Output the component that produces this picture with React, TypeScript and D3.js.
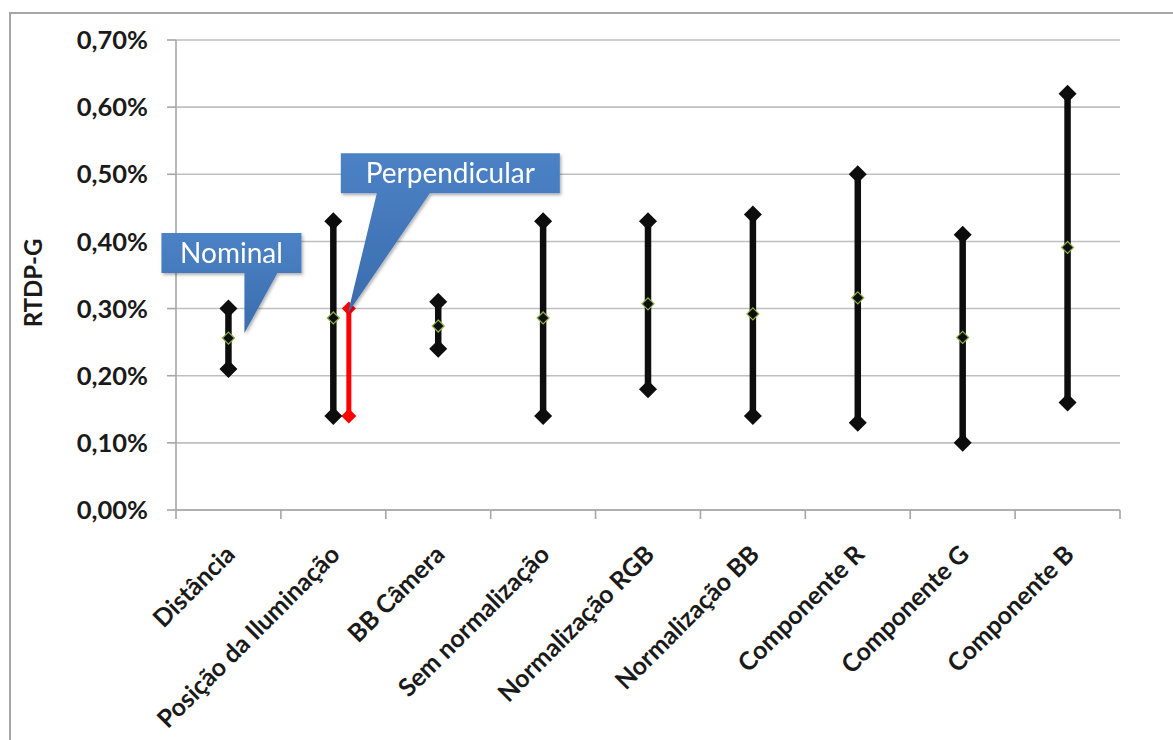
import React from "react";
import * as d3 from "d3";

const categories = [
  "Distância",
  "Posição da Iluminação",
  "BB Câmera",
  "Sem normalização",
  "Normalização RGB",
  "Normalização BB",
  "Componente R",
  "Componente G",
  "Componente B",
];
const maxValues = [0.3, 0.43, 0.31, 0.43, 0.43, 0.44, 0.5, 0.41, 0.62];
const minValues = [0.21, 0.14, 0.24, 0.14, 0.18, 0.14, 0.13, 0.1, 0.16];
const midValues = [0.256, 0.286, 0.274, 0.286, 0.307, 0.292, 0.316, 0.257, 0.391];

// Perpendicular (red) series, only for "Posição da Iluminação"
const redCategory = "Posição da Iluminação";
const redMax = 0.3;
const redMin = 0.14;

const yTicks = [0, 0.1, 0.2, 0.3, 0.4, 0.5, 0.6, 0.7];
const yLabel = "RTDP-G";

const annotations = [
  { text: "Nominal", category: "Distância", dx: 16, value: 0.2636, boxX: -83, boxY: -100, boxW: 140, boxH: 40, baseL: 0, baseR: 33 },
  { text: "Perpendicular", category: "Posição da Iluminação", dx: 14.5, value: 0.293, boxX: -7, boxY: -160, boxW: 219, boxH: 40, baseL: 29, baseR: 82 },
];

const W = 1173;
const H = 740;
const left = 176;
const right = 1120;
const top = 40;
const bottom = 510;

const FONT = "Lato, 'Open Sans', sans-serif";

function diamond(cx: number, cy: number, hw: number, hh: number) {
  return `M${cx},${cy - hh}L${cx + hw},${cy}L${cx},${cy + hh}L${cx - hw},${cy}Z`;
}

export default function App() {
  const x = d3.scaleBand<string>().domain(categories).range([left, right]);
  const y = d3.scaleLinear().domain([0, 0.7]).range([bottom, top]);
  const xc = (c: string) => (x(c) ?? 0) + x.bandwidth() / 2;
  const fmt = (v: number) => v.toFixed(2).replace(".", ",") + "%";

  const redX = xc(redCategory) + 15.5;

  return (
    <svg
      width={W}
      height={H}
      style={{ position: "absolute", left: 0, top: 0, background: "#fff" }}
      fontFamily={FONT}
    >
      <defs>
        <linearGradient id="calloutGrad" x1="0" y1="0" x2="0" y2="1">
          <stop offset="0%" stopColor="#4c82c6" />
          <stop offset="100%" stopColor="#3a6cad" />
        </linearGradient>
        <filter id="shadow" x="-10%" y="-10%" width="130%" height="140%">
          <feDropShadow dx="1.5" dy="2" stdDeviation="1.5" floodColor="#000" floodOpacity="0.3" />
        </filter>
      </defs>

      {/* outer chart frame */}
      <rect x={10} y={13} width={W + 20} height={H + 20} fill="none" stroke="#a6a6a6" strokeWidth={2} />

      {/* gridlines */}
      {yTicks.map((t) => (
        <line key={"g" + t} x1={left} x2={right} y1={y(t)} y2={y(t)} stroke="#bfbfbf" strokeWidth={1.6} />
      ))}

      {/* y axis */}
      <line x1={left} x2={left} y1={top} y2={bottom} stroke="#a6a6a6" strokeWidth={1.6} />
      {yTicks.map((t) => (
        <g key={"yt" + t}>
          <line x1={left - 9} x2={left} y1={y(t)} y2={y(t)} stroke="#a6a6a6" strokeWidth={1.6} />
          <text x={148} y={y(t)} dy="0.36em" textAnchor="end" fontSize={25.5} fontWeight={700} fill="#1a1a1a">
            {fmt(t)}
          </text>
        </g>
      ))}
      <text
        transform={`translate(42,${(top + bottom) / 2 + 8}) rotate(-90)`}
        textAnchor="middle"
        fontSize={24}
        fontWeight={700}
        fill="#1a1a1a"
      >
        {yLabel}
      </text>

      {/* x axis */}
      <line x1={left} x2={right} y1={bottom} y2={bottom} stroke="#a6a6a6" strokeWidth={1.6} />
      {categories.map((c) => (
        <line key={"xt" + c} x1={x(c)} x2={x(c)} y1={bottom} y2={bottom + 9} stroke="#a6a6a6" strokeWidth={1.6} />
      ))}
      <line x1={right} x2={right} y1={bottom} y2={bottom + 9} stroke="#a6a6a6" strokeWidth={1.6} />
      {categories.map((c) => (
        <text
          key={"xl" + c}
          transform={`translate(${xc(c) + 8},${bottom + 46}) rotate(-45)`}
          textAnchor="end"
          fontSize={25}
          fontWeight={700}
          fill="#1a1a1a"
        >
          {c}
        </text>
      ))}

      {/* red (Perpendicular) range */}
      <line x1={redX} x2={redX} y1={y(redMax)} y2={y(redMin)} stroke="#ff0000" strokeWidth={5} />
      <path d={diamond(redX, y(redMax), 7, 7)} fill="#ff0000" />
      <path d={diamond(redX, y(redMin), 7.5, 7.5)} fill="#ff0000" />

      {/* black ranges */}
      {categories.map((c, i) => {
        const cx = xc(c);
        return (
          <g key={"r" + c}>
            <line x1={cx} x2={cx} y1={y(maxValues[i])} y2={y(minValues[i])} stroke="#0d0d0d" strokeWidth={6.5} />
            <path d={diamond(cx, y(maxValues[i]), 9, 9)} fill="#0d0d0d" />
            <path d={diamond(cx, y(minValues[i]), 9, 9)} fill="#0d0d0d" />
            <path d={diamond(cx, y(midValues[i]), 6, 6)} fill="#0d0d0d" stroke="#8db04a" strokeWidth={1.2} />
          </g>
        );
      })}

      {/* callouts */}
      {annotations.map((a) => {
        const tx = xc(a.category) + a.dx;
        const ty = y(a.value);
        const bx = tx + a.boxX;
        const by = ty + a.boxY;
        const baseY = by + a.boxH;
        const shape = `M${bx},${by}H${bx + a.boxW}V${baseY}H${tx + a.baseR}L${tx},${ty}L${tx + a.baseL - 0.01},${baseY}H${bx}Z`;
        return (
          <g key={"a" + a.text} filter="url(#shadow)">
            <path d={shape} fill="url(#calloutGrad)" />
            <text
              x={bx + a.boxW / 2}
              y={by + a.boxH / 2}
              dy="0.36em"
              textAnchor="middle"
              fontSize={28}
              fill="#ffffff"
            >
              {a.text}
            </text>
          </g>
        );
      })}
    </svg>
  );
}
